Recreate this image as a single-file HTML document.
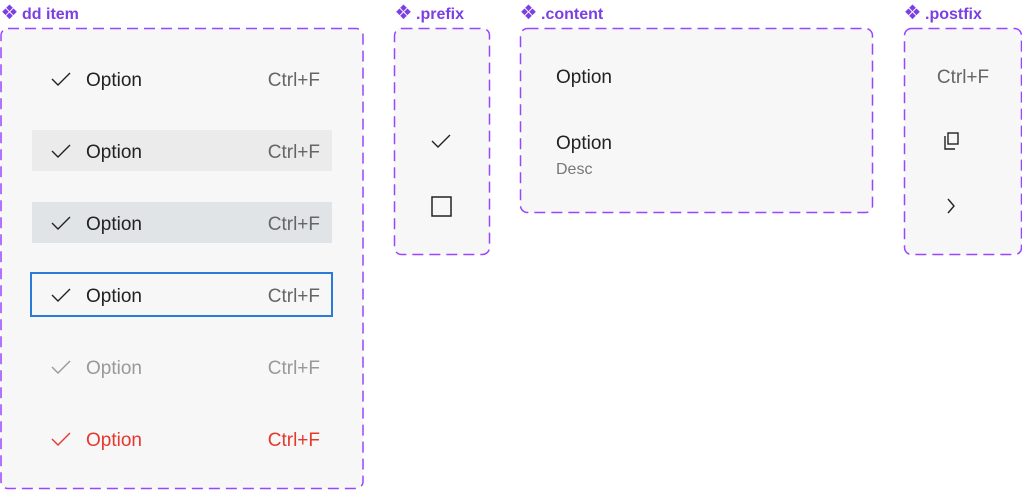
<!DOCTYPE html>
<html><head><meta charset="utf-8"><style>
html,body{margin:0;padding:0;background:#fff;width:1022px;height:490px;overflow:hidden}
text{font-family:"Liberation Sans","DejaVu Sans",sans-serif}
</style></head><body>
<svg width="1022" height="490" viewBox="0 0 1022 490" xmlns="http://www.w3.org/2000/svg">
<defs>
<g id="ic" fill="#7b3fe4">
<path d="M5.5 8.5l3.3 3.3-3.3 3.3-3.3-3.3z"/>
<path d="M13.5 8.5l3.3 3.3-3.3 3.3-3.3-3.3z"/>
<path d="M9.5 4.5l3.3 3.3-3.3 3.3-3.3-3.3z"/>
<path d="M9.5 12.5l3.3 3.3-3.3 3.3-3.3-3.3z"/>
</g>
</defs>
<g fill="#f7f7f7" stroke="#9747ff" stroke-width="1.5" stroke-dasharray="11 6">
<rect x="1" y="28.5" width="362" height="460" rx="7"/>
<rect x="394.5" y="28.5" width="95" height="226" rx="7"/>
<rect x="520.5" y="28.5" width="352" height="184" rx="7"/>
<rect x="904.5" y="28.5" width="117" height="226" rx="7"/>
</g>
<g fill="#7b3fe4" font-weight="bold" font-size="16">
<text x="22" y="19">dd item</text>
<text x="416" y="19">.prefix</text>
<text x="541" y="19">.content</text>
<text x="925" y="19">.postfix</text>
</g>
<use href="#ic" x="0" y="0"/>
<use href="#ic" x="394" y="0"/>
<use href="#ic" x="519" y="0"/>
<use href="#ic" x="903" y="0"/>
<rect x="32" y="130" width="300" height="41" fill="#ebebeb"/>
<rect x="32" y="202" width="300" height="41" fill="#e1e4e7"/>
<rect x="31" y="273" width="301" height="43" fill="none" stroke="#2a7ad9" stroke-width="2"/>
<g font-size="19">
<g fill="none" stroke-width="1.4">
<path d="M52 79l6 6 12-12" stroke="#222"/>
<path d="M52 151l6 6 12-12" stroke="#222"/>
<path d="M52 223l6 6 12-12" stroke="#222"/>
<path d="M52 295l6 6 12-12" stroke="#222"/>
<path d="M52 367l6 6 12-12" stroke="#999"/>
<path d="M52 439l6 6 12-12" stroke="#e5392c"/>
</g>
<text x="86" y="86" fill="#222">Option</text>
<text x="86" y="158" fill="#222">Option</text>
<text x="86" y="230" fill="#222">Option</text>
<text x="86" y="302" fill="#222">Option</text>
<text x="86" y="374" fill="#999">Option</text>
<text x="86" y="446" fill="#e5392c">Option</text>
<g text-anchor="end">
<text x="320" y="86" fill="#666">Ctrl+F</text>
<text x="320" y="158" fill="#666">Ctrl+F</text>
<text x="320" y="230" fill="#666">Ctrl+F</text>
<text x="320" y="302" fill="#666">Ctrl+F</text>
<text x="320" y="374" fill="#999">Ctrl+F</text>
<text x="320" y="446" fill="#e5392c">Ctrl+F</text>
</g>
<text x="556" y="83" fill="#222">Option</text>
<text x="556" y="149" fill="#222">Option</text>
<text x="963" y="83" fill="#666" text-anchor="middle">Ctrl+F</text>
</g>
<text x="556" y="174" fill="#777" font-size="16">Desc</text>
<path d="M432 141l6 6 12-12" fill="none" stroke="#222" stroke-width="1.4"/>
<rect x="432" y="197" width="19" height="19" fill="none" stroke="#222" stroke-width="1.5"/>
<g fill="none" stroke="#222" stroke-width="1.4">
<rect x="948" y="133" width="10" height="11"/>
<path d="M945 136v13h10"/>
<path d="M948 199l6 7-6 7"/>
</g>
</svg>
</body></html>
